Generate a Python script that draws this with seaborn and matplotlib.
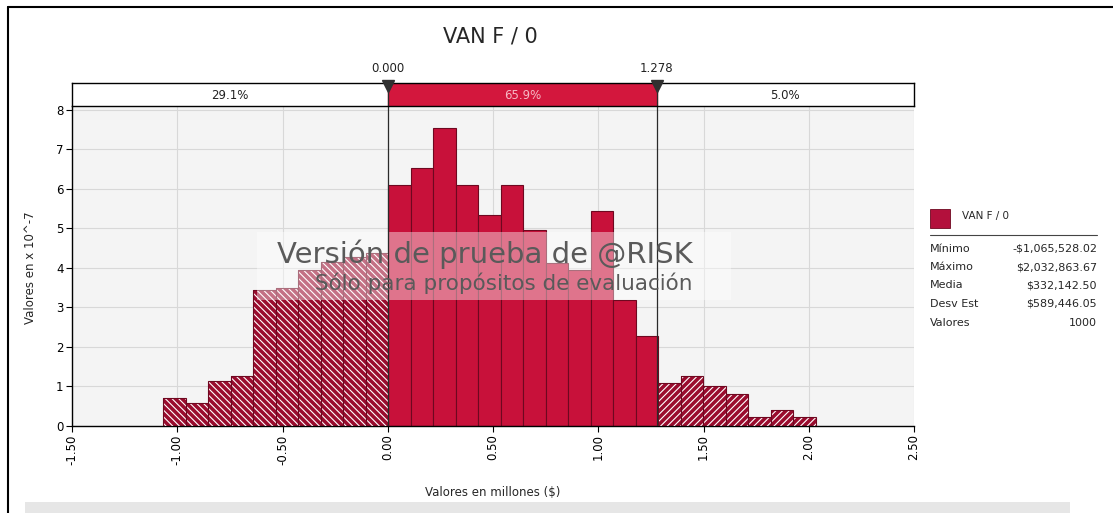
import numpy as np
import matplotlib
matplotlib.use("Agg")
import matplotlib.pyplot as plt
from matplotlib.patches import Rectangle
from matplotlib.lines import Line2D
import seaborn as sns

# ──────────────────────────────────────────────────────────────────────────────
# Datos (leídos del gráfico de @RISK)
# ──────────────────────────────────────────────────────────────────────────────
series_name = "VAN F / 0"
x_min = -1065528.02 / 1e6      # millones
x_max = 2032863.67 / 1e6
n_bins = 29

# densidad (x 10^-7) de cada barra, de izquierda a derecha
heights_left = [0.72, 0.59, 1.14, 1.27, 3.45, 3.50, 3.95, 4.16, 4.29, 4.38]
heights_mid = [6.10, 6.52, 7.54, 6.10, 5.34, 6.10, 4.96, 4.12, 3.95, 5.43, 3.19, 2.28]
heights_right = [1.08, 1.27, 1.00, 0.81, 0.24, 0.41, 0.24]

cut_low, cut_high = 0.000, 1.278
pct_labels = ["29.1%", "65.9%", "5.0%"]

stat_names = ["Mínimo", "Máximo", "Media", "Desv Est", "Valores"]
stat_values = [-1065528.02, 2032863.67, 332142.50, 589446.05]
n_values = 1000

x_ticks = [-1.5, -1.0, -0.5, 0.0, 0.5, 1.0, 1.5, 2.0, 2.5]
y_ticks = [0, 1, 2, 3, 4, 5, 6, 7, 8]

# ──────────────────────────────────────────────────────────────────────────────
# Estilo
# ──────────────────────────────────────────────────────────────────────────────
sns.set_theme(style="white")
plt.rcParams["font.family"] = ["DejaVu Sans"]
plt.rcParams["hatch.linewidth"] = 0.8

W, H = 1113, 513
RED = "#c8113a"
RED_DARK = "#9a0c2e"
EDGE = "#6e0820"


def fx(px):
    return px / W


def fy(py):
    return 1 - py / H


fig = plt.figure(figsize=(W / 100, H / 100), dpi=100)
fig.patch.set_facecolor("white")

ax = fig.add_axes([fx(72), fy(426), fx(914) - fx(72), fy(106) - fy(426)])
ax.set_facecolor("#f4f4f4")

edges = np.linspace(x_min, x_max, n_bins + 1)
centers = (edges[:-1] + edges[1:]) / 2
n_l, n_m = len(heights_left), len(heights_mid)

groups = [
    (0, heights_left, "\\" * 5),
    (n_l, heights_mid, None),
    (n_l + n_m, heights_right, "/" * 5),
]
for start, h, hatch in groups:
    stop = start + len(h)
    c = centers[start:stop]
    kw = dict(x=c, weights=h, bins=len(h), binrange=(edges[start], edges[stop]),
              ax=ax)
    if hatch is None:
        sns.histplot(**kw, color=RED, alpha=1, edgecolor=EDGE, linewidth=0.8,
                     zorder=2)
    else:
        sns.histplot(**kw, color=RED_DARK, alpha=1, linewidth=0, zorder=2)
        sns.histplot(**kw, fill=False, hatch=hatch, color="white",
                     linewidth=0, zorder=3)
        sns.histplot(**kw, fill=False, color=EDGE, linewidth=0.8, zorder=4)

ax.set_xlim(-1.5, 2.5)
ax.set_ylim(0, 8.1)
ax.set_xticks(x_ticks)
ax.set_xticklabels([f"{v:.2f}" for v in x_ticks], rotation=90)
ax.set_yticks(y_ticks)
ax.grid(True, color="#d8d8d8", linewidth=0.8)
ax.set_axisbelow(True)
ax.set_xlabel("")
ax.set_ylabel("")
for s in ["top", "right"]:
    ax.spines[s].set_visible(False)
for s in ["left", "bottom"]:
    ax.spines[s].set_color("black")
    ax.spines[s].set_linewidth(1.0)
ax.tick_params(direction="out", length=4, width=0.8, labelsize=8.5,
               colors="black", bottom=True, left=True, pad=2)

for v in (cut_low, cut_high):
    ax.axvline(v, color="#2a2a2a", linewidth=0.9, zorder=6)

# marca de agua
ax.add_patch(Rectangle((-0.62, 3.19), 2.25, 1.72, facecolor="white",
                       alpha=0.42, edgecolor="none", zorder=5))
ax.text(1.45, 4.36, "Versión de prueba de @RISK", ha="right", va="center",
        fontsize=21, color="#5a5a5a", zorder=7)
ax.text(1.45, 3.62, "Sólo para propósitos de evaluación", ha="right",
        va="center", fontsize=15.5, color="#5a5a5a", zorder=7)

# barra superior con porcentajes
axt = fig.add_axes([fx(72), fy(106), fx(914) - fx(72), fy(83) - fy(106)])
axt.set_xlim(-1.5, 2.5)
axt.set_ylim(0, 1)
axt.set_xticks([])
axt.set_yticks([])
axt.set_facecolor("white")
for s in axt.spines.values():
    s.set_color("black")
    s.set_linewidth(1.0)
axt.axvspan(cut_low, cut_high, color="#d3173d", zorder=1)
for v in (cut_low, cut_high):
    axt.axvline(v, color="#2a2a2a", linewidth=0.9)
mids = [(-1.5 + cut_low) / 2, (cut_low + cut_high) / 2, (cut_high + 2.5) / 2]
for m, lab, col in zip(mids, pct_labels, ["#222222", "#f6b8c4", "#222222"]):
    axt.text(m, 0.45, lab, ha="center", va="center", fontsize=8.5, color=col)
axt.plot([cut_low, cut_high], [0.85, 0.85], ls="none", marker="v", ms=8,
         color="#303030", clip_on=False, zorder=5)
for v in (cut_low, cut_high):
    axt.text(v, 1.65, f"{v:.3f}", ha="center", va="center", fontsize=8.5,
             color="#222222", clip_on=False)

# títulos
fig.text(fx(490), fy(37), series_name, ha="center", va="center", fontsize=15)
fig.text(fx(30), fy(268), "Valores en x 10^-7", rotation=90, ha="center",
         va="center", fontsize=8.5)
fig.text(fx(493), fy(492), "Valores en millones ($)", ha="center",
         va="center", fontsize=8.5)

# leyenda con estadísticas
fig.add_artist(Rectangle((fx(930), fy(228)), fx(20), 19 / H, facecolor="#b3103c",
                         edgecolor=EDGE, linewidth=0.6))
fig.text(fx(962), fy(216), series_name, ha="left", va="center", fontsize=7.5)
fig.add_artist(Line2D([fx(930), fx(1097)], [fy(235), fy(235)], color="#444444",
                      linewidth=0.8))


def money(v):
    s = f"${abs(v):,.2f}"
    return "-" + s if v < 0 else s


stat_text = [money(v) for v in stat_values] + [str(n_values)]
for i, (name, val) in enumerate(zip(stat_names, stat_text)):
    y = 248.5 + i * 18.5
    fig.text(fx(930), fy(y), name, ha="left", va="center", fontsize=8)
    fig.text(fx(1097), fy(y), val, ha="right", va="center", fontsize=8)

# marco exterior y franja gris inferior
fig.add_artist(Line2D([fx(8), fx(8)], [0, fy(7)], color="black", linewidth=1.5))
fig.add_artist(Line2D([fx(8), 1], [fy(7), fy(7)], color="black", linewidth=1.5))
fig.add_artist(Rectangle((fx(25), 0), fx(1070) - fx(25), 11 / H,
                         facecolor="#e6e6e6", edgecolor="none"))

fig.savefig("out.png", dpi=100)
